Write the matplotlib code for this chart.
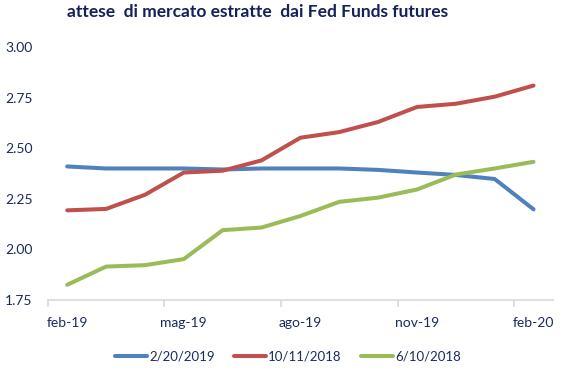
import numpy as np
import matplotlib
matplotlib.use("Agg")
from matplotlib import pyplot as plt

plt.rcParams['font.family'] = ['Lato', 'DejaVu Sans']

mesi = ['feb-19', 'mar-19', 'apr-19', 'mag-19', 'giu-19', 'lug-19', 'ago-19',
        'set-19', 'ott-19', 'nov-19', 'dic-19', 'gen-20', 'feb-20']
feb2019 = [2.41, 2.40, 2.40, 2.40, 2.395, 2.40, 2.40, 2.40, 2.393, 2.38, 2.368, 2.348, 2.198]
ott2018 = [2.193, 2.20, 2.27, 2.38, 2.389, 2.44, 2.552, 2.58, 2.63, 2.704, 2.72, 2.755, 2.81]
giu2018 = [1.825, 1.915, 1.922, 1.952, 2.095, 2.108, 2.165, 2.235, 2.256, 2.296, 2.37, 2.40, 2.433]

navy = '#1b2a5e'
x = np.arange(len(mesi))

fig = plt.figure(figsize=(5.76, 3.74), dpi=100)
ax = fig.add_axes([0.083, 0.198, 0.877, 0.676])

ax.plot(x, feb2019, color='#4F81BD', lw=2.9, label='2/20/2019', solid_capstyle='round')
ax.plot(x, ott2018, color='#C0504D', lw=2.9, label='10/11/2018', solid_capstyle='round')
ax.plot(x, giu2018, color='#9BBB59', lw=2.9, label='6/10/2018', solid_capstyle='round')

ax.set_xlim(-0.5, 12.5)
ax.set_ylim(1.75, 3.00)
ax.set_yticks([1.75, 2.00, 2.25, 2.50, 2.75, 3.00])
ax.set_yticklabels(['%.2f' % v for v in ax.get_yticks()])
ax.set_xticks(x[::3])
ax.set_xticklabels(mesi[::3])
ax.set_xticks(np.arange(-0.5, 12.5, 3), minor=True)

for s in ['top', 'right', 'left']:
    ax.spines[s].set_visible(False)
ax.spines['bottom'].set_color('#d9d9d9')
ax.spines['bottom'].set_linewidth(1.2)

ax.tick_params(axis='y', length=0, pad=11, labelsize=10, labelcolor=navy)
ax.tick_params(axis='x', which='major', length=0, pad=12, labelsize=10, labelcolor=navy)
ax.tick_params(axis='x', which='minor', length=5, width=1.2, color='#d9d9d9')

fig.suptitle('attese  di mercato estratte  dai Fed Funds futures', x=0.448, y=0.99,
             fontsize=12.5, fontweight='bold', color='#14205a')

fig.legend(loc='lower center', bbox_to_anchor=(0.5, 0.0), ncol=3, frameon=False,
           fontsize=9.5, handlelength=2.4, handletextpad=0.15, columnspacing=1.5,
           labelcolor=navy)

fig.savefig('out.png', dpi=100)
